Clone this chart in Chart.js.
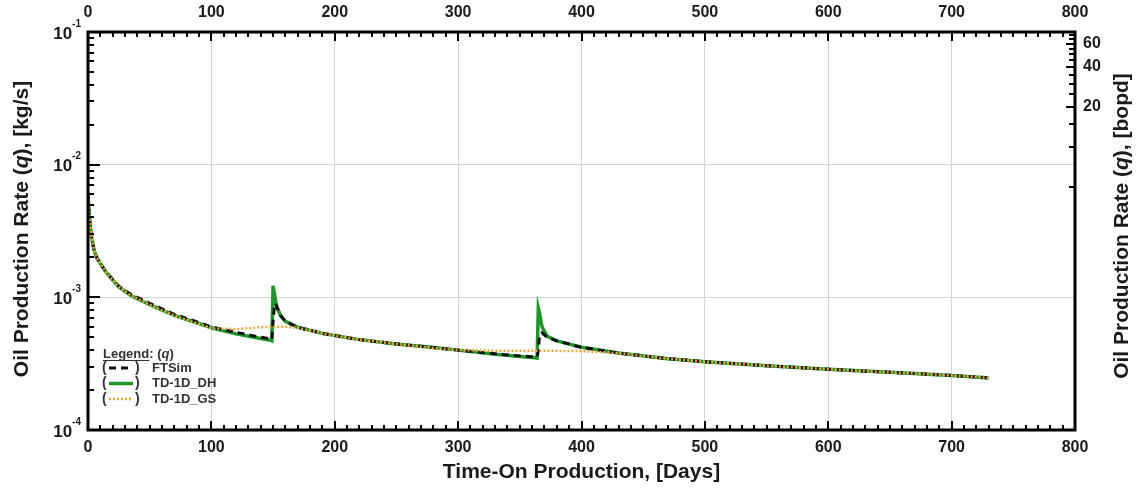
<!DOCTYPE html>
<html>
<head>
<meta charset="utf-8">
<script src="https://cdn.jsdelivr.net/npm/chart.js@4.4.0/dist/chart.umd.min.js"></script>
<style>
	body { margin: 0; background: #fff; }
</style>
</head>
<body>
<canvas id="rateChart" width="1138" height="494"></canvas>
<script>
"use strict"

// time-on-production samples, days
const days = [0, 1, 2, 3, 5, 7, 10, 14, 18, 25,
	35, 50, 70, 100, 120, 140, 148, 149, 150, 151,
	152, 153, 156, 160, 170, 190, 220, 250, 280, 300,
	330, 350, 362, 364, 365, 366, 368, 372, 380, 400,
	430, 470, 500, 550, 600, 650, 700, 730];

// oil rate, kg/s
const ftsim = [5.9e-3, 4.2e-3, 3.3e-3, 2.8e-3, 2.25e-3, 2.0e-3, 1.8e-3, 1.58e-3, 1.43e-3, 1.21e-3,
	1.05e-3, 9.0e-4, 7.45e-4, 6.0e-4, 5.45e-4, 5.0e-4, 4.85e-4, 4.8e-4, 6.5e-4, 8.4e-4,
	9.0e-4, 8.5e-4, 7.3e-4, 6.6e-4, 5.95e-4, 5.35e-4, 4.8e-4, 4.45e-4, 4.18e-4, 4.0e-4,
	3.75e-4, 3.62e-4, 3.55e-4, 3.55e-4, 3.95e-4, 5.2e-4, 5.4e-4, 5.0e-4, 4.7e-4, 4.2e-4,
	3.8e-4, 3.45e-4, 3.27e-4, 3.05e-4, 2.87e-4, 2.72e-4, 2.58e-4, 2.47e-4];

const tdDH = [5.9e-3, 4.2e-3, 3.3e-3, 2.8e-3, 2.25e-3, 2.0e-3, 1.8e-3, 1.58e-3, 1.42e-3, 1.2e-3,
	1.03e-3, 8.8e-4, 7.3e-4, 5.9e-4, 5.3e-4, 4.9e-4, 4.75e-4, 4.7e-4, 1.22e-3, 1.08e-3,
	9.4e-4, 8.5e-4, 7.3e-4, 6.6e-4, 5.95e-4, 5.35e-4, 4.8e-4, 4.45e-4, 4.18e-4, 4.0e-4,
	3.72e-4, 3.58e-4, 3.5e-4, 3.48e-4, 8.3e-4, 7.6e-4, 6.0e-4, 5.1e-4, 4.7e-4, 4.2e-4,
	3.8e-4, 3.45e-4, 3.27e-4, 3.05e-4, 2.87e-4, 2.72e-4, 2.58e-4, 2.47e-4];

const tdGS = [5.9e-3, 4.2e-3, 3.3e-3, 2.8e-3, 2.25e-3, 2.0e-3, 1.8e-3, 1.58e-3, 1.42e-3, 1.2e-3,
	1.03e-3, 8.8e-4, 7.3e-4, 5.85e-4, 5.75e-4, 5.95e-4, 6.0e-4, 6.0e-4, 6.0e-4, 6.0e-4,
	6.0e-4, 6.0e-4, 6.0e-4, 6.0e-4, 5.9e-4, 5.35e-4, 4.8e-4, 4.45e-4, 4.15e-4, 4.0e-4,
	3.96e-4, 3.95e-4, 3.95e-4, 3.95e-4, 3.95e-4, 3.95e-4, 3.95e-4, 3.95e-4, 3.95e-4, 3.93e-4,
	3.8e-4, 3.45e-4, 3.27e-4, 3.05e-4, 2.87e-4, 2.72e-4, 2.58e-4, 2.47e-4];

// axis ticks
const dayTicks = [0, 100, 200, 300, 400, 500, 600, 700, 800];
const rateDecades = [1e-4, 1e-3, 1e-2, 1e-1];
const bopdTicks = [5, 10, 15, 20, 25, 30, 35, 40, 45, 50, 55, 60, 65, 70];
const bopdLabels = [20, 40, 60];

const KG_S_PER_BOPD = 0.00136;

const FONT = 'Arial, "Liberation Sans", sans-serif';
const INK = '#1a1a1a';

function toPoints(values) {
	return days.map((d, i) => ({ x: d, y: values[i] }));
}

// fixed box sizes for the axes
function fixWidth(w) {
	return function (scale) { scale.width = w; };
}
function fixHeight(h) {
	return function (scale) { scale.height = h; };
}

function seg(ctx, x1, y1, x2, y2) {
	ctx.beginPath();
	ctx.moveTo(x1, y1);
	ctx.lineTo(x2, y2);
	ctx.stroke();
}

// text made of pieces, some of them italic, centred on (0,0)
function richText(ctx, parts, size) {
	let total = 0;
	parts.forEach(p => {
		ctx.font = (p.italic ? 'italic ' : '') + 'bold ' + size + 'px ' + FONT;
		p.w = ctx.measureText(p.text).width;
		total += p.w;
	});
	let x = -total / 2;
	parts.forEach(p => {
		ctx.font = (p.italic ? 'italic ' : '') + 'bold ' + size + 'px ' + FONT;
		ctx.fillText(p.text, x, 0);
		x += p.w;
	});
}

// inward ticks, frame, decade labels, titles and the legend box
const framePlugin = {
	id: 'frame',
	afterDraw(chart) {
		const { ctx, chartArea: a, scales } = chart;
		ctx.save();
		ctx.strokeStyle = '#000';
		ctx.fillStyle = INK;
		ctx.lineWidth = 2;

		for (let v = 0; v <= 800; v += 10) {
			const px = Math.round(scales.x.getPixelForValue(v));
			const len = v % 100 === 0 ? 9 : 5;
			seg(ctx, px, a.bottom, px, a.bottom - len);
			seg(ctx, px, a.top, px, a.top + len);
		}

		for (let i = 0; i < rateDecades.length - 1; i++) {
			for (let m = 1; m <= 9; m++) {
				const py = Math.round(scales.y.getPixelForValue(m * rateDecades[i]));
				seg(ctx, a.left, py, a.left + (m === 1 ? 12 : 6), py);
			}
		}

		bopdTicks.forEach(b => {
			const py = Math.round(scales.y2.getPixelForValue(b));
			if (py < a.top + 2) return;
			seg(ctx, a.right, py, a.right - (bopdLabels.includes(b) ? 9 : 6), py);
		});

		ctx.lineWidth = 3;
		ctx.strokeRect(a.left, a.top, a.right - a.left, a.bottom - a.top);

		// 10^n labels on the left axis
		ctx.textBaseline = 'middle';
		rateDecades.forEach(v => {
			const py = scales.y.getPixelForValue(v);
			const exp = String(Math.round(Math.log10(v)));
			ctx.font = 'bold 10px ' + FONT;
			const ew = ctx.measureText(exp).width;
			ctx.textAlign = 'left';
			ctx.fillText(exp, 81 - ew, py - 8);
			ctx.font = 'bold 17px ' + FONT;
			ctx.textAlign = 'right';
			ctx.fillText('10', 81 - ew, py + 2);
		});

		// axis titles
		ctx.textAlign = 'left';
		ctx.textBaseline = 'middle';
		ctx.save();
		ctx.translate(22, 229);
		ctx.rotate(-Math.PI / 2);
		richText(ctx, [{ text: 'Oil Production Rate (' }, { text: 'q', italic: true }, { text: '), [kg/s]' }], 21);
		ctx.restore();

		ctx.save();
		ctx.translate(1122, 226);
		ctx.rotate(-Math.PI / 2);
		richText(ctx, [{ text: 'Oil Production Rate (' }, { text: 'q', italic: true }, { text: '), [bopd]' }], 21);
		ctx.restore();

		ctx.save();
		ctx.translate((a.left + a.right) / 2, 472);
		richText(ctx, [{ text: 'Time-On Production, [Days]' }], 21);
		ctx.restore();

		// legend
		ctx.fillStyle = '#333';
		ctx.font = 'bold 13px ' + FONT;
		ctx.textBaseline = 'alphabetic';
		ctx.fillText('Legend', 103, 358);
		const lw = ctx.measureText('Legend').width;
		const cw = ctx.measureText(': (').width;
		ctx.fillText(': (', 103 + lw, 358);
		ctx.font = 'italic bold 13px ' + FONT;
		ctx.fillText('q', 103 + lw + cw, 358);
		const qw = ctx.measureText('q').width;
		ctx.font = 'bold 13px ' + FONT;
		ctx.fillText(')', 103 + lw + cw + qw, 358);
		ctx.strokeStyle = '#333';
		ctx.lineWidth = 1;
		seg(ctx, 103, 360.5, 103 + lw, 360.5);

		const rows = [368, 383.5, 399];
		chart.data.datasets.forEach((ds, i) => {
			const y = rows[i];
			ctx.font = 'bold 14px ' + FONT;
			ctx.fillStyle = '#333';
			ctx.textBaseline = 'middle';
			ctx.fillText('(', 102, y);
			ctx.fillText(')', 135, y);
			ctx.font = 'bold 13px ' + FONT;
			ctx.fillText(ds.label, 152, y);
			ctx.save();
			ctx.strokeStyle = ds.borderColor;
			ctx.lineWidth = ds.borderWidth;
			ctx.setLineDash(ds.borderDash || []);
			seg(ctx, 109, y, 133, y);
			ctx.restore();
		});

		ctx.restore();
	}
};

const tickFont = { family: FONT, size: 16, weight: 'bold' };

new Chart(
	document.getElementById('rateChart'),
	{
		type: 'line',
		data: {
			datasets: [
				{
					label: 'FTSim',
					data: toPoints(ftsim),
					borderColor: '#111111',
					borderWidth: 3,
					borderDash: [7, 5],
					order: 1,
				},
				{
					label: 'TD-1D_DH',
					data: toPoints(tdDH),
					borderColor: '#1f952a',
					borderWidth: 3.5,
					order: 2,
				},
				{
					label: 'TD-1D_GS',
					data: toPoints(tdGS),
					borderColor: '#e9a93a',
					borderWidth: 2.5,
					borderDash: [2, 2],
					order: 0,
				}
			]
		},
		options: {
			responsive: false,
			animation: false,
			layout: { padding: 0 },
			elements: {
				point: { radius: 0 },
				line: { tension: 0 }
			},
			plugins: {
				legend: { display: false },
				tooltip: { enabled: false }
			},
			scales: {
				x: {
					type: 'linear',
					position: 'bottom',
					min: 0,
					max: 800,
					afterBuildTicks: s => { s.ticks = dayTicks.map(v => ({ value: v })); },
					ticks: { font: tickFont, color: INK, padding: 8, maxRotation: 0 },
					grid: { color: '#d4d4d4', drawTicks: false },
					border: { display: false },
					afterFit: fixHeight(64)
				},
				x2: {
					type: 'linear',
					position: 'top',
					min: 0,
					max: 800,
					afterBuildTicks: s => { s.ticks = dayTicks.map(v => ({ value: v })); },
					ticks: { font: tickFont, color: INK, padding: 10, maxRotation: 0 },
					grid: { display: false, drawTicks: false },
					border: { display: false },
					afterFit: fixHeight(32)
				},
				y: {
					type: 'logarithmic',
					position: 'left',
					min: 1e-4,
					max: 1e-1,
					afterBuildTicks: s => { s.ticks = rateDecades.map(v => ({ value: v })); },
					ticks: { display: false },
					grid: { color: '#d4d4d4', drawTicks: false },
					border: { display: false },
					afterFit: fixWidth(88)
				},
				y2: {
					type: 'logarithmic',
					position: 'right',
					min: 1e-4 / KG_S_PER_BOPD,
					max: 1e-1 / KG_S_PER_BOPD,
					afterBuildTicks: s => { s.ticks = bopdTicks.map(v => ({ value: v })); },
					ticks: {
						font: tickFont,
						color: INK,
						padding: 8,
						callback: v => bopdLabels.includes(v) ? String(v) : ''
					},
					grid: { display: false, drawTicks: false },
					border: { display: false },
					afterFit: fixWidth(63)
				}
			}
		},
		plugins: [framePlugin]
	}
);
</script>
</body>
</html>
